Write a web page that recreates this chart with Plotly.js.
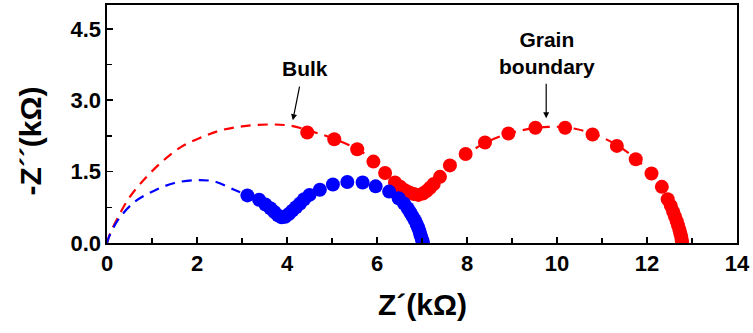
<!DOCTYPE html>
<html>
<head>
<meta charset="utf-8">
<script src="https://cdn.plot.ly/plotly-3.0.1.min.js"></script>
<style>
  html, body { margin: 0; padding: 0; background: #fff; }
  #chart { width: 753px; height: 333px; }
</style>
</head>
<body>
<div id="chart"></div>
<script>
// Measured impedance spectrum, sample A (red): bulk + grain boundary arcs
const redZre = [4.45, 5.05, 5.56, 5.92, 6.18, 6.40, 6.52, 6.62, 6.72, 6.82, 6.92, 7.02, 7.10, 7.18, 7.26, 7.40, 7.62, 7.97, 8.40, 8.92, 9.52, 10.18, 10.79, 11.33, 11.75, 12.10, 12.33, 12.46, 12.53, 12.58, 12.62, 12.66, 12.69, 12.72, 12.74, 12.76, 12.77, 12.78];
const redZim = [2.32, 2.18, 1.97, 1.71, 1.47, 1.27, 1.18, 1.11, 1.06, 1.03, 1.01, 1.04, 1.09, 1.16, 1.24, 1.39, 1.63, 1.87, 2.11, 2.30, 2.42, 2.42, 2.28, 2.04, 1.76, 1.46, 1.18, 0.92, 0.78, 0.66, 0.56, 0.46, 0.37, 0.28, 0.20, 0.13, 0.07, 0.02];

// Measured impedance spectrum, sample B (blue)
const blueZre = [3.12, 3.38, 3.52, 3.63, 3.72, 3.80, 3.88, 3.96, 4.04, 4.12, 4.20, 4.29, 4.38, 4.50, 4.73, 5.02, 5.34, 5.68, 5.97, 6.27, 6.48, 6.60, 6.68, 6.74, 6.79, 6.84, 6.88, 6.91, 6.94, 6.96, 6.98, 7.00, 7.02];
const blueZim = [1.00, 0.91, 0.81, 0.73, 0.65, 0.58, 0.54, 0.55, 0.61, 0.68, 0.75, 0.83, 0.92, 1.01, 1.12, 1.23, 1.28, 1.27, 1.19, 1.08, 0.94, 0.83, 0.73, 0.64, 0.56, 0.48, 0.40, 0.33, 0.26, 0.19, 0.13, 0.07, 0.02];

// Equivalent-circuit fit curves (dashed)
const redFitZre = [0, 0.07, 0.25, 0.50, 0.85, 1.25, 1.65, 2.10, 2.50, 3.00, 3.60, 4.10, 4.60, 5.10, 5.60, 6.00, 6.30, 6.60, 6.85, 7.10, 7.40, 7.80, 8.40, 9.00, 9.80, 10.40, 11.00, 11.50, 12.00, 12.40, 12.65, 12.80];
const redFitZim = [0, 0.20, 0.55, 0.96, 1.36, 1.73, 2.02, 2.22, 2.36, 2.45, 2.49, 2.46, 2.33, 2.17, 1.95, 1.68, 1.42, 1.15, 1.02, 1.10, 1.38, 1.74, 2.10, 2.32, 2.44, 2.40, 2.22, 1.95, 1.55, 1.05, 0.50, 0];
const blueFitZre = [0, 0.05, 0.25, 0.62, 1.05, 1.50, 1.98, 2.40, 2.80, 3.00];
const blueFitZim = [0, 0.14, 0.49, 0.87, 1.10, 1.26, 1.32, 1.29, 1.13, 1.05];

// Axis ticks and annotation labels
const xTicks = [0, 2, 4, 6, 8, 10, 12, 14];
const yTicks = [0, 1.5, 3.0, 4.5];
const yTickText = ['0.0', '1.5', '3.0', '4.5'];
const bulkLabel = 'Bulk';
const gbLabel = 'Grain<br>boundary';
const xTitle = 'Z´(kΩ)';
const yTitle = '-Z´´(kΩ)';

const RED = '#ff0000';
const BLUE = '#0000ff';
const FONT = 'Arial, "Liberation Sans", sans-serif';

const traces = [
  { x: redFitZre, y: redFitZim, mode: 'lines', line: { color: RED, width: 2.2, dash: '10px,7px', shape: 'spline' }, hoverinfo: 'skip' },
  { x: blueFitZre, y: blueFitZim, mode: 'lines', line: { color: BLUE, width: 2.2, dash: '10px,7px', shape: 'spline' }, hoverinfo: 'skip' },
  { x: redZre, y: redZim, mode: 'markers', marker: { color: RED, size: 14, symbol: 'circle' } },
  { x: blueZre, y: blueZim, mode: 'markers', marker: { color: BLUE, size: 14, symbol: 'circle' } }
];

const axisCommon = {
  showline: true, linecolor: '#000', linewidth: 1.6, mirror: true,
  ticks: 'inside', ticklen: 6, tickwidth: 1.5, tickcolor: '#000',
  showgrid: false, zeroline: false,
  tickfont: { family: FONT, size: 22, color: '#000', weight: 'bold' }
};

const layout = {
  width: 753, height: 333,
  margin: { l: 107, r: 16, t: 5, b: 90 },
  paper_bgcolor: '#fff', plot_bgcolor: '#fff',
  showlegend: false,
  xaxis: Object.assign({}, axisCommon, {
    range: [0, 14], tickvals: xTicks,
    minor: { dtick: 1, ticks: 'inside', ticklen: 5, tickwidth: 1.5, tickcolor: '#000' }
  }),
  yaxis: Object.assign({}, axisCommon, {
    range: [0, 5], tickvals: yTicks, ticktext: yTickText,
    minor: { dtick: 0.75, ticks: 'inside', ticklen: 5, tickwidth: 1.5, tickcolor: '#000' }
  }),
  annotations: [
    { xref: 'paper', yref: 'paper', x: 0.5, y: -0.26, text: '<b>' + xTitle + '</b>', showarrow: false,
      xanchor: 'center', yanchor: 'middle', font: { family: FONT, size: 30, color: '#000' } },
    { xref: 'paper', yref: 'paper', x: -0.121, y: 0.43, text: '<b>' + yTitle + '</b>', showarrow: false, textangle: -90,
      xanchor: 'center', yanchor: 'middle', font: { family: FONT, size: 30, color: '#000' } },
    { x: 4.4, y: 3.66, text: '<b>' + bulkLabel + '</b>', showarrow: false,
      font: { family: FONT, size: 21, color: '#000' } },
    { x: 4.13, y: 2.58, ax: 7, ay: -35, text: '', showarrow: true, arrowhead: 2, arrowsize: 1, arrowwidth: 1.2, arrowcolor: '#000' },
    { x: 9.78, y: 4.0, text: '<b>' + gbLabel + '</b>', showarrow: false,
      font: { family: FONT, size: 21, color: '#000' } },
    { x: 9.76, y: 2.62, ax: 0, ay: -36, text: '', showarrow: true, arrowhead: 2, arrowsize: 1, arrowwidth: 1.2, arrowcolor: '#000' }
  ]
};

Plotly.newPlot('chart', traces, layout, { displayModeBar: false, staticPlot: true });
</script>
</body>
</html>
